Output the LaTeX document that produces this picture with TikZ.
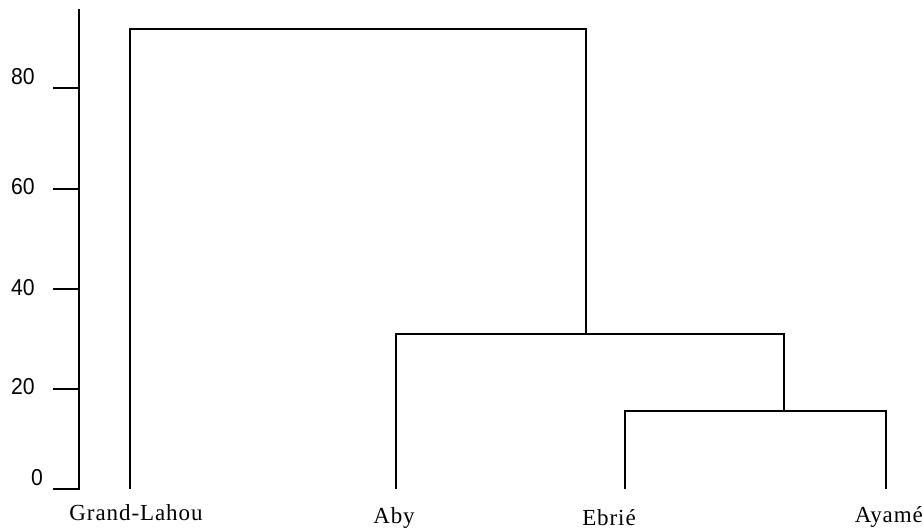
\documentclass[tikz,border=0pt]{standalone}
\usepackage{fontspec}
\setmainfont{Liberation Serif}
\newfontfamily\numfont{Liberation Sans}
\begin{document}
\begin{tikzpicture}[x=1pt,y=1pt,
  line/.style={line width=2.2pt,black,line cap=rect},
  ticklbl/.style={font=\numfont\fontsize{23}{23}\selectfont,inner sep=0pt,xscale=0.92},
  leaflbl/.style={font=\addfontfeatures{LetterSpace=4}\fontsize{23}{23}\selectfont,inner sep=0pt}]
\useasboundingbox (0,0) rectangle (923,530);
% axis
\coordinate (atop) at (79,520);
\coordinate (abot) at (79,41);
\draw[line] (atop) -- (abot);
\foreach \v/\y/\ly/\lx in {0/41/52/37,20/141/143/23,40/241/242/23,60/341/343/23,80/442/453/23}{
  \coordinate (t\v) at (79,\y);
  \coordinate (tl\v) at (54,\y);
  \draw[line] (t\v) -- (tl\v);
  \node[ticklbl] (lab\v) at (\lx,\ly) {\v};
}
% leaves
\coordinate (gl) at (130,42);
\coordinate (aby) at (396,42);
\coordinate (ebr) at (625,42);
\coordinate (aya) at (886,42);
% merges
\coordinate (glt) at (130,501);
\coordinate (rt) at (586,501);
\coordinate (m2) at (586,196);
\coordinate (abyt) at (396,196);
\coordinate (m2r) at (784,196);
\coordinate (m3) at (784,119);
\coordinate (ebrt) at (625,119);
\coordinate (ayat) at (886,119);
\draw[line] (gl) -- (glt) -- (rt) -- (m2);
\draw[line] (aby) -- (abyt) -- (m2r) -- (m3);
\draw[line] (ebr) -- (ebrt) -- (ayat) -- (aya);
% labels
\node[leaflbl] (lgl) at (136,17) {Grand-Lahou};
\node[leaflbl] (laby) at (394,12) {Aby};
\node[leaflbl] (lebr) at (609,12) {Ebrié};
\node[leaflbl,anchor=east] (laya) at (923,13) {Ayamé};
\end{tikzpicture}
\end{document}
